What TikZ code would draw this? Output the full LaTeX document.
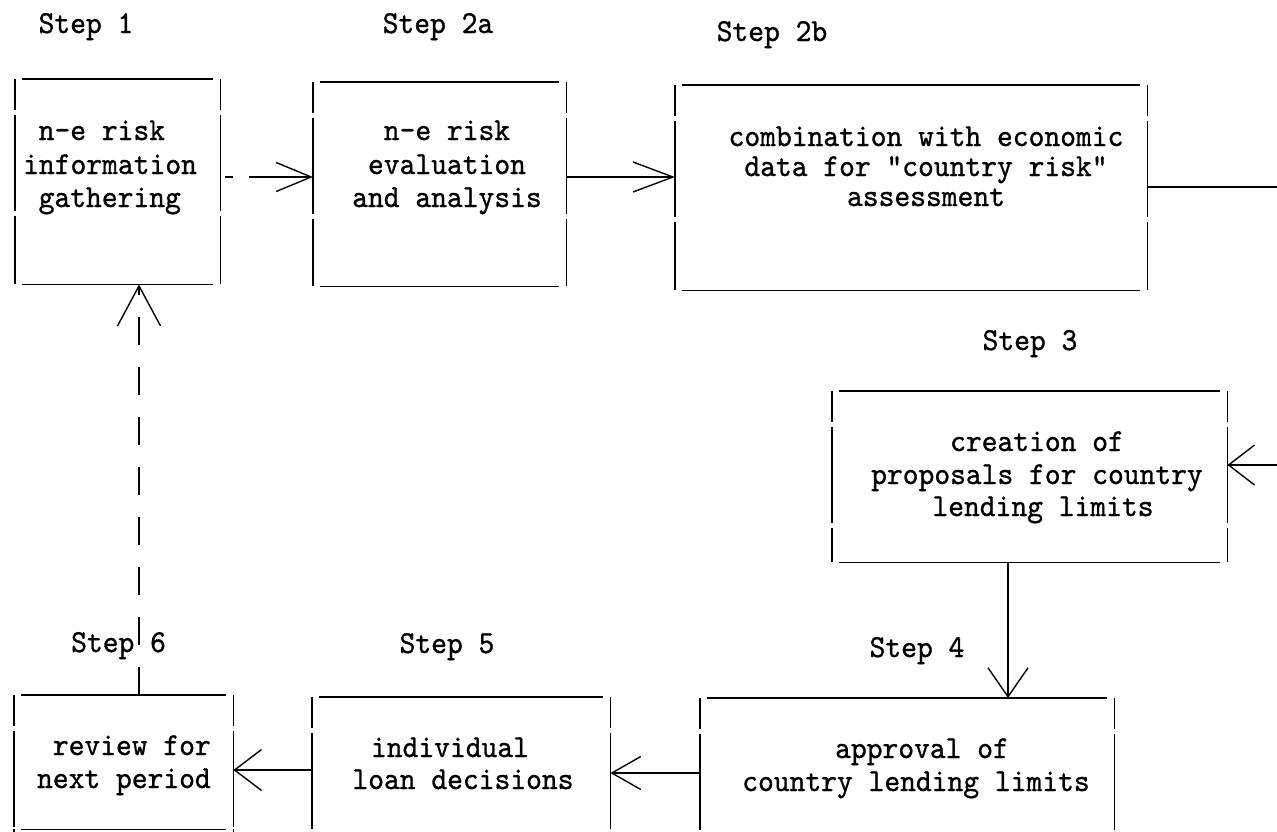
\documentclass[tikz,border=0pt]{standalone}
\usepackage{fontspec}
\newfontfamily\twfont{lmmono10-regular.otf}[FakeBold=0.9,FakeStretch=0.94]
\usetikzlibrary{arrows.meta,calc}
\begin{document}
\begin{tikzpicture}[x=1pt,y=-1pt,
  lbl/.style={font=\fontsize{32}{34}\selectfont\twfont, inner sep=0pt, anchor=base},
  tbox/.style={draw=none, inner sep=0pt, anchor=north west},
  edge/.style={line width=1.8pt},
  conn/.style={line width=1.1pt},
  barb/.style n args={2}{-{Straight Barb[length=#1pt,width=#2pt,line width=1.4pt]}},
]
\useasboundingbox (0,0) rectangle (1277,831);
\clip (0,0) rectangle (1277,831);
\fill[white] (0,0) rectangle (1277,831);

% boxes
\node[tbox, minimum width=205pt, minimum height=205pt] (b1)  at (15,79)  {};
\node[tbox, minimum width=253pt, minimum height=204pt] (b2a) at (313,82) {};
\node[tbox, minimum width=472pt, minimum height=205pt] (b2b) at (675,85) {};
\node[tbox, minimum width=395pt, minimum height=171pt] (b3)  at (832,391) {};
\node[tbox, minimum width=414pt, minimum height=200pt] (b4)  at (700,698) {};
\node[tbox, minimum width=298pt, minimum height=200pt] (b5)  at (312,697) {};
\node[tbox, minimum width=219pt, minimum height=134pt] (b6)  at (14,695) {};

\foreach \n in {b1,b2a,b2b,b3,b4,b5,b6}{
  \draw[edge] ($(\n.north west)+(7,0)$) -- ($(\n.north east)+(-7,0)$);
  \draw[edge] ($(\n.south west)+(7,0)$) -- ($(\n.south east)+(-7,0)$);
  \foreach \a in {west,east}{
    \draw[edge] (\n.north \a) -- ($(\n.north \a)+(0,31)$)
                ($(\n.north \a)+(0,36)$) -- ($(\n.north \a)+(0,132)$)
                ($(\n.north \a)+(0,137)$) -- (\n.south \a);
  }
}

% box texts
\node[lbl, anchor=base west] (t1a) at (38.5,140) {n-e risk};
\node[lbl, anchor=base west] (t1b) at (23,174) {information};
\node[lbl, anchor=base west] (t1c) at (38.5,207) {gathering};

\node[lbl] (t2a1) at (447,140) {n-e risk};
\node[lbl] (t2a2) at (447,174) {evaluation};
\node[lbl] (t2a3) at (447,207) {and analysis};

\node[lbl] (t2b1) at (926,146) {combination with economic};
\node[lbl] (t2b2) at (926,176) {data for "country risk"};
\node[lbl] (t2b3) at (926,206) {assessment};

\node[lbl] (t3a) at (1037,451) {creation of};
\node[lbl] (t3b) at (1037,484) {proposals for country};
\node[lbl] (t3c) at (1043,516) {lending limits};

\node[lbl] (t4a) at (922,758) {approval of};
\node[lbl] (t4b) at (916,791) {country lending limits};

\node[lbl] (t5a) at (450,757) {individual};
\node[lbl] (t5b) at (463,789) {loan decisions};

\node[lbl, anchor=base east] (t6a) at (211,755) {review for};
\node[lbl, anchor=base east] (t6b) at (211,788) {next period};

% step labels
\node[lbl] (s1)  at (86,33)   {Step 1};
\node[lbl] (s2a) at (438,33)  {Step 2a};
\node[lbl] (s2b) at (772,41)  {Step 2b};
\node[lbl] (s3)  at (1030,350) {Step 3};
\node[lbl] (s4)  at (917,657) {Step 4};
\node[lbl] (s5)  at (447,653) {Step 5};
\node[lbl, anchor=base west] (s6) at (71,652) {Step 6};

% connectors
\coordinate (e1) at (1277,187);
\coordinate (e2) at (1277,465);

\draw[conn, barb={35}{29}, shorten <=5pt, dash pattern=on 8pt off 16pt on 400pt off 1pt]
  (b1.east |- 0,177) -- (b2a.west |- 0,177);
\draw[conn, barb={40}{30}] (b2a.east |- 0,177) -- (b2b.west |- 0,177);
\draw[conn] (b2b.east |- e1) -- (e1);
\draw[conn, barb={26}{40}] (e2) -- (b3.east |- e2);
\draw[conn, barb={29}{40}] (b3.south -| 1008,0) -- (b4.north -| 1008,0);
\draw[conn, barb={29}{33}] (b4.west |- 0,773) -- (b5.east |- 0,773);
\draw[conn, barb={27}{41}] (b5.west |- 0,770) -- (b6.east |- 0,770);
\draw[line width=1.5pt, barb={40}{43}, dash pattern=on 28pt off 22pt]
  (b6.north -| 139,0) -- (b1.south -| 139,0);
\end{tikzpicture}
\end{document}
